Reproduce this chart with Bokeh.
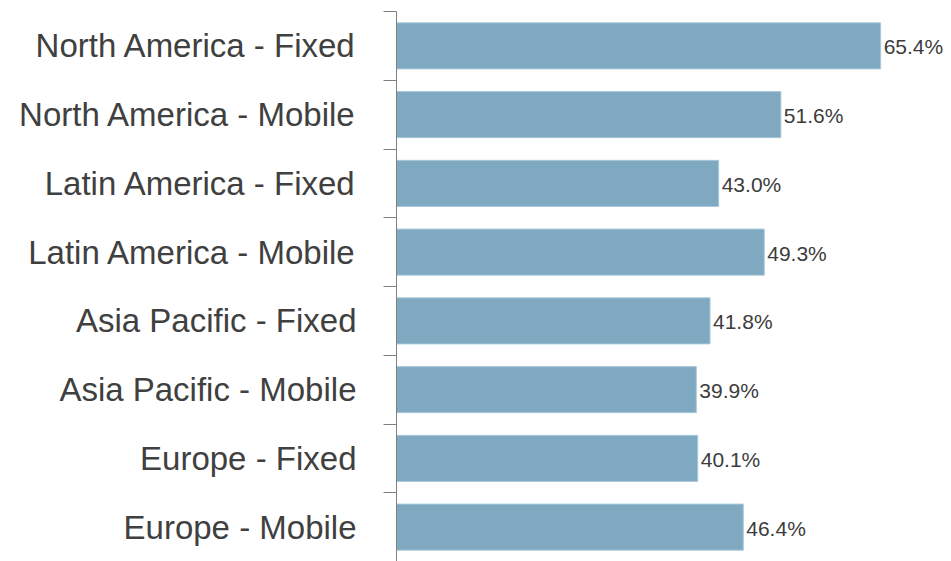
from bokeh.plotting import figure
from bokeh.models import ColumnDataSource, Range1d, LinearAxis, FixedTicker
from bokeh.core.properties import value
from bokeh.embed import file_html
from bokeh.resources import INLINE

categories = [
    "North America - Fixed",
    "North America - Mobile",
    "Latin America - Fixed",
    "Latin America - Mobile",
    "Asia Pacific - Fixed",
    "Asia Pacific - Mobile",
    "Europe - Fixed",
    "Europe - Mobile",
]
values = [65.4, 51.6, 43.0, 49.3, 41.8, 39.9, 40.1, 46.4]
value_labels = [f"{v:.1f}%" for v in values]

n = len(categories)
ypos = [n - i - 0.5 for i in range(n)]   # first category at the top
bounds = list(range(n + 1))              # category boundaries (tick marks)
x_start, x_end = -1.56, 75.2
baseline = [x_start] * n

src = ColumnDataSource(dict(y=ypos, cat=categories, val=values, lab=value_labels, base=baseline))

p = figure(
    width=951, height=561,
    y_range=Range1d(0, n),
    x_range=Range1d(x_start, x_end),
    x_axis_location=None, y_axis_location=None,
    toolbar_location=None, output_backend="svg",
    min_border_left=396, min_border_top=11, min_border_bottom=0, min_border_right=0,
)
p.outline_line_color = None
p.grid.visible = False

p.hbar(y="y", left="base", right="val", height=0.67, source=src,
       fill_color="#7FA8C1", line_color="#A9C8DA", line_width=1)

p.text(x="val", y="y", text="lab", source=src, x_offset=3, y_offset=1,
       text_baseline="middle", text_align="left",
       text_font=value("Liberation Sans"), text_font_size="21px", text_color="#3c3c3c")

cat_axis = LinearAxis(
    ticker=FixedTicker(ticks=ypos, minor_ticks=bounds),
    major_label_overrides={y: c for y, c in zip(ypos, categories)},
    axis_line_color="#808080",
    major_tick_line_color=None, major_tick_in=0, major_tick_out=13,
    minor_tick_line_color="#808080", minor_tick_in=0, minor_tick_out=13,
    major_label_standoff=27,
    major_label_text_font_size="33px",
    major_label_text_font="Liberation Sans",
    major_label_text_color="#404040",
)
p.add_layout(cat_axis, "left")

open("out.html", "w").write(file_html(p, INLINE))
